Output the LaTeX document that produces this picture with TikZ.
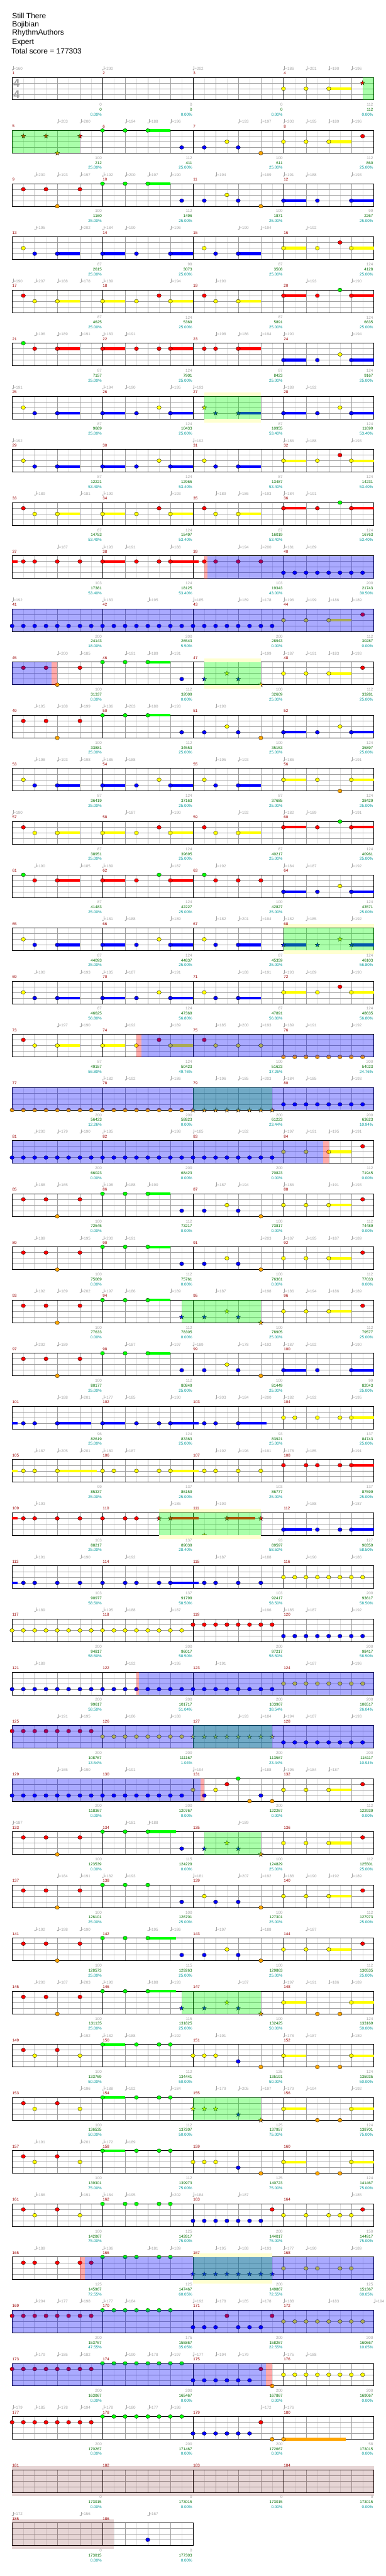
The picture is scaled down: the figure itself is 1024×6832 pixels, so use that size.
\documentclass[tikz,border=0pt]{standalone}
\usepackage{fontspec}
\setmainfont{Liberation Sans}

% fret colours (lane 0 = green ... lane 4 = orange)
\definecolor{lane0}{RGB}{0,255,0}
\definecolor{lane1}{RGB}{255,0,0}
\definecolor{lane2}{RGB}{255,255,0}
\definecolor{lane3}{RGB}{0,0,255}
\definecolor{lane4}{RGB}{255,165,0}
\definecolor{halfgray}{RGB}{224,224,224}
\definecolor{beatgray}{RGB}{160,160,160}
\definecolor{tempogray}{RGB}{165,165,165}
\definecolor{barred}{RGB}{153,0,0}
\definecolor{scoregreen}{RGB}{0,110,0}
\definecolor{pctteal}{RGB}{0,153,153}
\definecolor{whammyyellow}{RGB}{255,255,208}
\definecolor{codabrown}{RGB}{130,45,45}

\tikzset{
  halfline/.style={draw=halfgray, line width=0.8pt},
  beatline/.style={draw=beatgray, line width=0.8pt},
  laneline/.style={draw=beatgray, line width=1pt},
  barline/.style={draw=black, line width=0.8pt},
  border/.style={draw=black, line width=1.3pt},
  fret/.style={draw=black, line width=0.5pt},
  small/.style={font=\fontsize{10.5}{12}\selectfont, inner sep=0pt},
  tempotext/.style={small, text=tempogray, anchor=west},
  barnum/.style={small, text=barred, anchor=west},
  basenum/.style={small, text=tempogray, anchor=east},
  totalnum/.style={small, text=scoregreen, anchor=east},
  pctnum/.style={small, text=pctteal, anchor=east},
  songinfo/.style={font=\fontsize{20}{20}\selectfont, anchor=west, inner sep=0pt},
  timesig/.style={font=\fontsize{30}{30}\selectfont\bfseries, text=beatgray, inner sep=0pt},
  spglow/.style={fill=lane0, fill opacity=0.333},
  actblue/.style={fill=lane3, fill opacity=0.333},
  actpink/.style={fill=lane1, fill opacity=0.333},
  codashade/.style={fill=codabrown, fill opacity=0.2}
}

% one staff row: #1 row, #2 measures
\newcommand{\staff}[2]{%
  \pgfmathsetmacro{\rowy}{205+141*#1}%
  \pgfmathsetmacro{\rowend}{32+240*#2}%
  \pgfmathtruncatemacro{\nhalf}{8*#2-1}%
  \pgfmathtruncatemacro{\nbeat}{4*#2-1}%
  \pgfmathtruncatemacro{\nbar}{#2-1}%
  \foreach \k in {1,...,\nhalf} \draw[halfline] ({32+30*\k},\rowy) -- ++(0,60);
  \foreach \k in {1,...,\nbeat} \draw[beatline] ({32+60*\k},\rowy) -- ++(0,60);
  \foreach \k in {1,2,3} \draw[laneline] (32,{\rowy+15*\k}) -- (\rowend,{\rowy+15*\k});
  \foreach \k in {1,...,\nbar} \draw[barline] ({32+240*\k},\rowy) -- ++(0,60);
  \draw[border] (32,\rowy) rectangle (\rowend,{\rowy+60});
}
% tempo marks: beat/bpm
\newcommand{\tempos}[2]{%
  \pgfmathsetmacro{\rowy}{205+141*#1}%
  \foreach \beat/\bpm [count=\i] in {#2}{
    \fill[tempogray] ({33+60*\beat},{\rowy-20}) ellipse [x radius=2, y radius=1.5];
    \draw[tempogray, line width=0.6pt] ({34.8+60*\beat},{\rowy-20}) -- ++(0,-10);
    \node[tempotext] (bpm#1x\i) at ({36+60*\beat},{\rowy-23}) {=\bpm};
  }}
% sustains: start/lane/end
\newcommand{\holds}[2]{%
  \pgfmathsetmacro{\rowy}{205+141*#1}%
  \foreach \st/\lane/\en in {#2}
    \fill[lane\lane] ({32+60*\st},{\rowy+15*\lane-3.5}) rectangle ({32+60*\en},{\rowy+15*\lane+3.5});
}
\newcommand{\gem}[2]{\filldraw[fret, fill=lane#2] ({32+60*(#1)},{\rowy+15*#2}) ellipse [x radius=5.6, y radius=5];}
\newcommand{\stargem}[2]{\filldraw[fret, fill=lane#2, shift={({32+60*(#1)},{\rowy+15*#2})}]
  (-90:6.5) -- (-54:2.6) -- (-18:6.5) -- (18:2.6) -- (54:6.5) -- (90:2.6) -- (126:6.5) -- (162:2.6) -- (198:6.5) -- (234:2.6) -- cycle;}
% notes: beat/lane
\newcommand{\frets}[2]{%
  \pgfmathsetmacro{\rowy}{205+141*#1}%
  \foreach \beat/\lane in {#2} \gem{\beat}{\lane};
}
% eighth-note runs: row, first beat, count, lane
\newcommand{\fretrun}[4]{%
  \pgfmathsetmacro{\rowy}{205+141*#1}%
  \foreach \k in {1,...,#3} \gem{#2+0.5*(\k-1)}{#4};
}
\newcommand{\spstars}[2]{%
  \pgfmathsetmacro{\rowy}{205+141*#1}%
  \foreach \beat/\lane in {#2} \stargem{\beat}{\lane};
}
\newcommand{\starrun}[4]{%
  \pgfmathsetmacro{\rowy}{205+141*#1}%
  \foreach \k in {1,...,#3} \stargem{#2+0.5*(\k-1)}{#4};
}
% shaded zones: row, from beat, to beat
\newcommand{\spzone}[3]{\pgfmathsetmacro{\rowy}{205+141*#1}%
  \fill[spglow] ({32+60*#2},\rowy) rectangle ({32+60*#3},{\rowy+60});}
\newcommand{\whammy}[3]{\pgfmathsetmacro{\rowy}{205+141*#1}%
  \fill[whammyyellow] ({32+60*#2},{\rowy-10}) rectangle ({32+60*#3},\rowy);
  \fill[whammyyellow] ({32+60*#2},{\rowy+60}) rectangle ({32+60*#3},{\rowy+70});}
\newcommand{\actzone}[3]{\pgfmathsetmacro{\rowy}{205+141*#1}%
  \fill[actblue] ({32+60*#2},\rowy) rectangle ({32+60*#3},{\rowy+60});}
\newcommand{\actedge}[3]{\pgfmathsetmacro{\rowy}{205+141*#1}%
  \fill[actpink] ({32+60*#2},\rowy) rectangle ({32+60*#3},{\rowy+60});}
\newcommand{\codazone}[3]{\pgfmathsetmacro{\rowy}{205+141*#1}%
  \fill[codashade] ({32+60*#2},{\rowy-10}) rectangle ({32+60*#3},{\rowy+70});}
% measure numbers and scores: row, first measure, base/total/percent
\newcommand{\scores}[3]{%
  \pgfmathsetmacro{\rowy}{205+141*#1}%
  \foreach \base/\total/\pct [count=\i from 0] in {#3}{
    \pgfmathtruncatemacro{\mm}{#2+\i}
    \node[barnum] (bar\mm) at ({32.5+240*\i},{\rowy-11}) {\mm};
    \node[basenum] (base\mm) at ({30+240*(\i+1)},{\rowy+73}) {\base};
    \node[totalnum] (total\mm) at ({30+240*(\i+1)},{\rowy+86}) {\total};
    \node[pctnum] (pct\mm) at ({30+240*(\i+1)},{\rowy+99}) {\pct\%};
  }}

\begin{document}
\begin{tikzpicture}[x=1pt, y=-1pt]
  \fill[white] (0,0) rectangle (1024,6832);
  \useasboundingbox (0,0) rectangle (1024,6832);

  % Song info
  \node[songinfo] (songtitle) at (32,42) {Still There};
  \node[songinfo] (artist) at (32,65) {Bojibian};
  \node[songinfo] (charter) at (32,88) {RhythmAuthors};
  \node[songinfo] (difficulty) at (32,112) {Expert};
  \node[songinfo] (totalscore) at (30,135) {Total score = 177303};

  % measures 1-4
  \staff{0}{4}
  \node[timesig] (tsup) at (44,221) {4};
  \node[timesig] (tslow) at (44,251) {4};
  \tempos{0}{0/160,4/200,8/202,12/186,13/201,14/190,15/196}
  \holds{0}{14/2/15}
  \frets{0}{12/2,13/2,14/2}
  \spstars{0}{15.5/1}
  \spzone{0}{15.5}{16}
  \scores{0}{1}{0/0/0.00,0/0/0.00,0/0/0.00,112/112/0.00}

  % measures 5-8
  \staff{1}{4}
  \tempos{1}{2/203,3/200,5/194,6/188,7/196,10/193,11/197,12/200,13/195,14/189,15/196}
  \holds{1}{6/0/7,14/2/15}
  \frets{1}{4/0,5/0,6/0,7.5/3,8.5/3,9.5/2,10/3,11/4,12/2,13/2,14/2,15.5/1}
  \spstars{1}{0.5/1,1.5/1,2/4,3/1}
  \spzone{1}{0}{3}
  \scores{1}{5}{100/212/25.00,112/411/25.00,100/611/25.00,112/860/25.00}

  % measures 9-12
  \staff{2}{4}
  \tempos{2}{1/200,2/193,3/197,4/192,5/200,6/197,7/190,9/194,11/199,12/191,13/188,15/193}
  \holds{2}{6/0/7,12/3/13,15/3/16}
  \frets{2}{0.5/1,1.5/1,2/4,3/1,4/0,5/0,6/0,7.5/3,8.5/3,9.5/2,10/3,11/4,12/3,13.5/3,15/3}
  \scores{2}{9}{100/1160/25.00,112/1496/25.00,100/1871/25.00,99/2267/25.00}

  % measures 13-16
  \staff{3}{4}
  \tempos{3}{1/195,3/202,4/184,5/190,7/196,10/190,11/194,13/192}
  \holds{3}{2/3/3,4/3/5,7/3/8,10/3/11,12/2/13,15/2/16}
  \frets{3}{0.5/2,1/3,2/3,4/3,5.5/3,7/3,8.5/2,9/3,10/3,12/2,13.5/2,14.5/1,15/2}
  \scores{3}{13}{87/2615/25.00,99/3073/25.00,87/3508/25.00,124/4128/25.00}

  % measures 17-20
  \staff{4}{4}
  \tempos{4}{0/190,1/207,2/188,3/178,4/189,7/194,9/190,13/193,15/190}
  \holds{4}{2/2/3,4/2/5,7/2/8,10/2/11,12/1/13,15/1/16}
  \frets{4}{0.5/1,1/2,2/2,4/2,5.5/2,6.5/1,7/2,8.5/1,9/2,10/2,12/1,13.5/1,14.5/0,15/1}
  \scores{4}{17}{87/4625/25.00,124/5369/25.00,87/5891/25.00,124/6635/25.00}

  % measures 21-24
  \staff{5}{4}
  \tempos{5}{1/196,2/189,3/191,4/183,5/191,9/198,10/186,11/194,12/190,15/194}
  \holds{5}{2/1/3,4/1/5,7/1/8,10/1/11,12/3/13,15/3/16}
  \frets{5}{0.5/0,1/1,2/1,4/1,5.5/1,6.5/1,7/1,8.5/1,9/1,10/1,12/3,13.5/3,14.5/2,15/3}
  \scores{5}{21}{87/7157/25.00,124/7901/25.00,87/8423/25.00,124/9167/25.00}

  % measures 25-28
  \staff{6}{4}
  \tempos{6}{0/191,4/194,5/190,7/195,8/193,12/189,13/192}
  \holds{6}{2/3/3,4/3/5,7/3/8,10/3/11,12/3/13,15/3/16}
  \frets{6}{0.5/2,1/3,2/3,4/3,5.5/3,6.5/2,7/3,12/3,13.5/3,14.5/2,15/3}
  \spstars{6}{8.5/2,9/3,10/3}
  \whammy{6}{8.5}{11}
  \spzone{6}{8.5}{11}
  \scores{6}{25}{87/9689/25.00,124/10433/25.00,87/10955/53.40,124/11699/53.40}

  % measures 29-32
  \staff{7}{4}
  \tempos{7}{0/192,8/192,12/186,13/188,15/193}
  \holds{7}{2/3/3,4/3/5,7/3/8,10/3/11,12/2/13,15/2/16}
  \frets{7}{0.5/2,1/3,2/3,4/3,5.5/3,6.5/2,7/3,8.5/2,9/3,10/3,12/2,13.5/2,14.5/1,15/2}
  \scores{7}{29}{87/12221/53.40,124/12965/53.40,87/13487/53.40,124/14231/53.40}

  % measures 33-36
  \staff{8}{4}
  \tempos{8}{1/189,3/181,4/190,7/193,9/189,10/186,11/193,12/184,13/191}
  \holds{8}{2/2/3,4/2/5,7/2/8,10/2/11,12/1/13,15/1/16}
  \frets{8}{0.5/1,1/2,2/2,4/2,5.5/2,6.5/1,7/2,8.5/1,9/2,10/2,12/1,13.5/1,14.5/0,15/1}
  \scores{8}{33}{87/14753/53.40,124/15497/53.40,87/16019/53.40,124/16763/53.40}

  % measures 37-40
  \staff{9}{4}
  \tempos{9}{2/187,4/193,5/191,7/188,10/194,11/200,12/181,13/189}
  \holds{9}{0/1/0.25,4/1/5,7/1/8.25}
  \frets{9}{0.5/1,1/1,2/1,3/1,4/1,5.5/1,6.5/1,7/1,8.5/1,9/1,10/1,11/1}
  \fretrun{9}{12}{8}{3}
  \actedge{9}{8.5}{8.65}
  \actzone{9}{8.65}{16}
  \scores{9}{37}{103/17381/53.40,124/18125/53.40,103/19343/43.00,200/21743/30.50}

  % measures 41-44
  \staff{10}{4}
  \tempos{10}{0/192,4/183,6/195,8/185,10/189,11/178,12/196,13/199,14/186,15/189}
  \holds{10}{14/2/15}
  \fretrun{10}{0}{24}{3}
  \frets{10}{12/2,13/2,14/2,15.5/1}
  \actzone{10}{0}{16}
  \scores{10}{41}{200/24143/18.00,200/26543/5.50,200/28943/0.00,112/30287/0.00}

  % measures 45-48
  \staff{11}{4}
  \tempos{11}{2/200,3/185,5/191,6/189,7/191,11/199,12/187,13/191,14/183,15/193}
  \holds{11}{6/0/7,14/2/15}
  \frets{11}{0.5/1,1.5/1,2/4,3/1,4/0,5/0,6/0,7.5/3,12/2,13/2,14/2,15.5/1}
  \spstars{11}{8.5/3,9.5/2,10/3,11/4}
  \actzone{11}{0}{1.75}
  \actedge{11}{1.75}{2}
  \whammy{11}{8.5}{11}
  \spzone{11}{8.5}{11}
  \scores{11}{45}{100/31337/0.00,112/32009/0.00,100/32609/25.00,112/33281/25.00}

  % measures 49-52
  \staff{12}{4}
  \tempos{12}{1/195,2/188,3/199,4/186,5/203,6/180,7/193,9/190}
  \holds{12}{6/0/7,12/3/13,15/3/16}
  \frets{12}{0.5/1,1.5/1,2/4,3/1,4/0,5/0,6/0,7.5/3,8.5/3,9.5/2,10/3,11/4,12/3,13.5/3,14.5/2,15/3}
  \scores{12}{49}{100/33881/25.00,112/34553/25.00,100/35153/25.00,124/35897/25.00}

  % measures 53-56
  \staff{13}{4}
  \tempos{13}{1/198,2/193,3/198,4/185,5/188,9/195,10/193,12/186,15/191}
  \holds{13}{2/3/3,4/3/5,7/3/8,10/3/11,12/2/13,15/2/16}
  \frets{13}{0.5/2,1/3,2/3,4/3,5.5/3,6.5/2,7/3,8.5/2,9/3,10/3,12/2,13.5/2,14.5/4,15/2}
  \scores{13}{53}{87/36419/25.00,124/37163/25.00,87/37685/25.00,124/38429/25.00}

  % measures 57-60
  \staff{14}{4}
  \tempos{14}{0/190,5/187,7/190,10/192,12/182,13/189,15/191}
  \holds{14}{2/2/3,4/2/5,7/2/8,10/2/11,12/1/13,15/1/16}
  \frets{14}{0.5/1,1/2,2/2,4/2,5.5/2,6.5/1,7/2,8.5/1,9/2,10/2,12/1,13.5/1,14.5/0,15/1}
  \scores{14}{57}{87/38951/25.00,124/39695/25.00,87/40217/25.00,124/40961/25.00}

  % measures 61-64
  \staff{15}{4}
  \tempos{15}{1/190,3/185,4/189,7/187,9/192,12/184,13/187,15/192}
  \holds{15}{2/1/3,4/1/5,7/1/8,12/3/13,15/3/16}
  \frets{15}{0.5/0,1/1,2/1,4/1,5.5/1,6.5/0,7/1,8.5/0,9/1,10/1,11/1,12/3,13.5/3,14.5/2,15/3}
  \scores{15}{61}{87/41483/25.00,124/42227/25.00,100/42827/25.00,124/43571/25.00}

  % measures 65-68
  \staff{16}{4}
  \tempos{16}{4/181,5/188,7/189,9/182,10/201,11/194,12/182,13/185,15/192}
  \holds{16}{2/3/3,4/3/5,7/3/8,10/3/11,12/3/13,15/3/16}
  \frets{16}{0.5/2,1/3,2/3,4/3,5.5/3,6.5/2,7/3,8.5/2,9/3,10/3}
  \spstars{16}{12/3,13.5/3,14.5/2,15/3}
  \whammy{16}{12}{16}
  \spzone{16}{12}{16}
  \scores{16}{65}{87/44093/25.00,124/44837/25.00,87/45359/25.00,124/46103/56.80}

  % measures 69-72
  \staff{17}{4}
  \tempos{17}{1/190,3/193,4/185,5/187,7/191,10/188,11/191,12/193,13/189,15/190}
  \holds{17}{2/3/3,4/3/5,7/3/8,10/3/11,12/2/13,15/2/16}
  \frets{17}{0.5/2,1/3,2/3,4/3,5.5/3,6.5/2,7/3,8.5/2,9/3,10/3,12/2,13.5/2,14.5/1,15/2}
  \scores{17}{69}{87/46625/56.80,124/47369/56.80,87/47891/56.80,124/48635/56.80}

  % measures 73-76
  \staff{18}{4}
  \tempos{18}{2/197,3/190,5/192,7/189,9/185,10/200,11/193,12/189,13/191,15/192}
  \holds{18}{2/2/3,4/2/5,7/2/8}
  \frets{18}{0.5/1,1/2,2/2,4/2,5.5/2,6.5/1,7/2,8.5/1,9/2,10/2,11/2}
  \fretrun{18}{12}{8}{4}
  \actedge{18}{5.5}{5.72}
  \actzone{18}{5.72}{16}
  \scores{18}{73}{87/49157/56.80,124/50423/49.76,100/51623/37.26,200/54023/24.76}

  % measures 77-80
  \staff{19}{4}
  \tempos{19}{4/182,5/192,7/186,9/196,10/185,11/203,12/184,13/185,15/193}
  \fretrun{19}{0}{16}{4}
  \starrun{19}{8}{8}{4}
  \fretrun{19}{12}{8}{3}
  \spzone{19}{8}{11.5}
  \actzone{19}{0}{16}
  \scores{19}{77}{200/56423/12.26,200/58823/0.00,200/61223/23.44,200/63623/10.94}

  % measures 81-84
  \staff{20}{4}
  \tempos{20}{1/200,2/179,3/190,4/185,7/198,8/185,10/182,12/197,13/191,14/195,15/191}
  \holds{20}{14/2/15}
  \fretrun{20}{0}{24}{3}
  \frets{20}{12/2,13/2,14/2,15.5/1}
  \actzone{20}{0}{13.75}
  \actedge{20}{13.75}{14}
  \scores{20}{81}{200/66023/0.00,200/68423/0.00,200/70823/0.00,112/71945/0.00}

  % measures 85-88
  \staff{21}{4}
  \tempos{21}{1/188,2/165,4/198,5/188,6/190,9/187,10/194,12/186,14/191,15/193}
  \holds{21}{6/0/7,14/2/15}
  \frets{21}{0.5/1,1.5/1,2/4,3/1,4/0,5/0,6/0,7.5/3,8.5/3,9.5/2,10/3,11/4,12/2,13/2,14/2,15.5/1}
  \scores{21}{85}{100/72545/0.00,112/73217/0.00,100/73817/0.00,112/74489/0.00}

  % measures 89-92
  \staff{22}{4}
  \tempos{22}{1/189,3/195,4/200,5/191,11/203,12/187,13/195,14/187,15/189}
  \holds{22}{6/0/7,14/2/15}
  \frets{22}{0.5/1,1.5/1,2/4,3/1,4/0,5/0,6/0,7.5/3,8.5/3,9.5/2,10/3,11/4,12/2,13/2,14/2,15.5/1}
  \scores{22}{89}{100/75089/0.00,112/75761/0.00,100/76361/0.00,112/77033/0.00}

  % measures 93-96
  \staff{23}{4}
  \tempos{23}{1/192,2/189,3/202,4/197,5/186,7/189,9/187,11/198,12/186,13/194,14/186,15/189}
  \holds{23}{6/0/7,14/2/15}
  \frets{23}{0.5/1,1.5/1,2/4,3/1,4/0,5/0,6/0,12/2,13/2,14/2,15.5/1}
  \spstars{23}{7.5/3,8.5/3,9.5/2,10/3,11/4}
  \spzone{23}{7.5}{11}
  \scores{23}{93}{100/77633/0.00,112/78305/0.00,100/78905/25.00,112/79577/25.00}

  % measures 97-100
  \staff{24}{4}
  \tempos{24}{1/202,2/189,5/187,7/197,8/189,10/178,11/192,12/187,13/192,15/190}
  \holds{24}{6/0/7,12/3/13,15/3/16}
  \frets{24}{0.5/1,1.5/1,2/4,3/1,4/0,5/0,6/0,7.5/3,8.5/3,9.5/2,10/3,11/4,12/3,13.5/3,15/3}
  \scores{24}{97}{100/80177/25.00,112/80849/25.00,100/81449/25.00,99/82043/25.00}

  % measures 101-104
  \staff{25}{4}
  \tempos{25}{2/188,3/201,4/177,5/185,7/190,9/203,10/184,11/200,12/182,13/192,15/195}
  \holds{25}{0/3/0.25,2/3/3.5,4/3/5,7/3/8.25,10/3/11.25,15/2/16}
  \frets{25}{0.5/3,1/3,2/3,4/3,5.5/3,6.5/3,7/3,8.5/3,9/3,10/3,12/2,12.5/2,13.5/2,14.5/2,15/2}
  \scores{25}{101}{96/82619/25.00,124/83363/25.00,93/83921/25.00,137/84743/25.00}

  % measures 105-108
  \staff{26}{4}
  \tempos{26}{1/187,2/205,3/201,4/180,5/187,9/192,10/196,11/191,12/178,13/185,15/191}
  \holds{26}{0/2/0.25,2/2/3.75,7/2/8.25,15/1/16}
  \frets{26}{0.5/2,1/2,2/2,4/2,4.5/2,5.5/2,6.5/2,7/2,8.5/2,9/2,10/2,11/2,12/1,13/1,13.5/1,14.5/1,15/1}
  \scores{26}{105}{99/85337/25.00,137/86159/25.00,103/86777/25.00,137/87599/25.00}

  % measures 109-112
  \staff{27}{4}
  \tempos{27}{1/193,7/185,9/190,13/188,15/187}
  \holds{27}{0/1/0.25,7/1/8.25,9.5/1/10.75,12/3/13.25,15/3/16}
  \frets{27}{0.5/1,1/1,2/1,3/1,4/1,5/1,5.5/1,12/3,13.5/3,14.5/3,15/3}
  \spstars{27}{6.5/1,7/1,8.5/4,9.5/1,11/1}
  \whammy{27}{6.5}{11}
  \spzone{27}{6.5}{11}
  \scores{27}{109}{103/88217/25.00,137/89039/28.40,93/89597/58.50,127/90359/58.50}

  % measures 113-116
  \staff{28}{4}
  \tempos{28}{1/191,3/190,5/192,9/187,11/188,13/190,15/186}
  \holds{28}{0/3/0.25,7/3/8.25}
  \frets{28}{0.5/3,1/3,2/3,3/3,4/3,5/3,5.5/3,6.5/3,7/3,8.5/3,9/3,10/3,11/3}
  \fretrun{28}{12}{8}{2}
  \scores{28}{113}{103/90977/58.50,137/91799/58.50,103/92417/58.50,200/93617/58.50}

  % measures 117-120
  \staff{29}{4}
  \tempos{29}{1/189,4/195,5/188,7/187,11/196,12/185,13/187,15/192}
  \fretrun{29}{0}{16}{2}
  \fretrun{29}{8}{8}{1}
  \fretrun{29}{12}{8}{3}
  \scores{29}{117}{200/94817/58.50,200/96017/58.50,200/97217/58.50,200/98417/58.50}

  % measures 121-124
  \staff{30}{4}
  \tempos{30}{1/189,5/192,7/195,9/191,13/187,15/196}
  \fretrun{30}{0}{24}{3}
  \fretrun{30}{12}{8}{2}
  \actedge{30}{5.5}{5.62}
  \actzone{30}{5.62}{16}
  \scores{30}{121}{200/99617/58.50,200/101717/51.04,200/103967/38.54,200/106517/26.04}

  % measures 125-128
  \staff{31}{4}
  \tempos{31}{2/191,3/195,5/186,7/188,10/193,11/184,12/194,13/187,15/193}
  \fretrun{31}{0}{8}{1}
  \fretrun{31}{4}{8}{2}
  \starrun{31}{8}{8}{2}
  \fretrun{31}{12}{8}{3}
  \spzone{31}{8}{11.5}
  \actzone{31}{0}{16}
  \scores{31}{125}{200/108767/13.54,200/111167/1.04,200/113567/23.44,200/116117/10.94}

  % measures 129-132
  \staff{32}{4}
  \tempos{32}{2/165,3/190,5/191,8/194,11/188,12/195,13/184,14/187}
  \holds{32}{14/2/15}
  \fretrun{32}{0}{16}{3}
  \frets{32}{8/2,8.5/3,9/2,9.5/1,10/0,10.5/4,11/3,11.5/4,12/2,13/2,14/2,15.5/1}
  \actzone{32}{0}{8.33}
  \actedge{32}{8.33}{8.5}
  \scores{32}{129}{200/118367/0.00,200/120767/0.00,200/122267/0.00,112/122939/0.00}

  % measures 133-136
  \staff{33}{4}
  \tempos{33}{0/187,5/181,6/188,10/189}
  \holds{33}{6/0/7.25,14/2/15}
  \frets{33}{0.5/1,1.5/1,2/4,3/1,4/0,5/0,6/0,7.5/3,12/2,13/2,14/2,15.5/1}
  \spstars{33}{8.5/3,9.5/2,10/3,11/4}
  \spzone{33}{8.5}{11}
  \scores{33}{133}{100/123539/0.00,115/124229/0.00,100/124829/25.00,112/125501/25.00}

  % measures 137-140
  \staff{34}{4}
  \tempos{34}{2/184,3/191,4/182,5/193,8/181,10/207,11/192,12/188,13/190,14/192,15/189}
  \holds{34}{14/2/15}
  \frets{34}{0.5/1,1.5/1,2/4,3/1,4/0,5/0,6/0,7.5/3,8.5/2,9/3,10/3,11/4,12/2,13/2,14/2,15.5/1}
  \scores{34}{137}{100/126101/25.00,100/126701/25.00,100/127301/25.00,112/127973/25.00}

  % measures 141-144
  \staff{35}{4}
  \tempos{35}{1/192,2/198,3/190,6/195,7/186,9/197,11/188,13/187}
  \holds{35}{6/0/7.25,14/2/15}
  \frets{35}{0.5/1,1.5/1,2/4,3/1,4/0,5/0,6/0,7.5/3,8.5/3,9.5/2,10/3,11/4,12/2,13/2,14/2,15.5/1}
  \scores{35}{141}{100/128573/25.00,115/129263/25.00,100/129863/25.00,112/130535/25.00}

  % measures 145-148
  \staff{36}{4}
  \tempos{36}{1/200,2/187,3/203,4/190,6/188,7/193,10/187,12/197,13/191,14/186,15/189}
  \holds{36}{6/0/7.25,12/2/13,15/2/16}
  \frets{36}{0.5/1,1.5/1,2/4,3/1,4/0,5/0,6/0,12/2,13.5/4,14.5/4,15/2}
  \spstars{36}{7.5/3,8.5/3,9.5/2,10/3,11/4}
  \spzone{36}{7.5}{11}
  \scores{36}{145}{100/131135/25.00,115/131825/25.00,100/132425/50.00,124/133169/50.00}

  % measures 149-152
  \staff{37}{4}
  \tempos{37}{3/192,4/182,5/188,7/192,9/191,12/178,13/187,15/189}
  \holds{37}{4/0/5,12/2/13,15/2/16}
  \frets{37}{0.5/1,1/2,2/1,3/2,4/0,5.5/0,6.5/0,7/0,8/2,8.5/2,9/2,10/3,11/4,12/2,13.5/4,14.5/4,15/2}
  \scores{37}{149}{100/133769/50.00,112/134441/50.00,125/135191/50.00,124/135935/50.00}

  % measures 153-156
  \staff{38}{4}
  \tempos{38}{3/196,4/188,5/192,7/184,9/179,10/205,11/197,12/179,13/194,15/192}
  \holds{38}{4/0/5,12/2/13,15/2/16}
  \frets{38}{0.5/1,1/2,2/1,3/2,4/0,5.5/0,6.5/0,7/0,12/2,13.5/4,14.5/4,15/2}
  \spstars{38}{8/2,8.5/2,9/2,10/3,11/4}
  \spzone{38}{8}{11}
  \scores{38}{153}{100/136535/50.00,112/137207/50.00,125/137957/75.00,124/138701/75.00}

  % measures 157-160
  \staff{39}{4}
  \tempos{39}{1/191,3/201,4/172,5/189}
  \holds{39}{4/0/5,12/2/13,15/2/16}
  \frets{39}{0.5/1,1/2,2/1,3/2,4/0,5.5/0,6.5/0,7/0,8/2,8.5/2,9/2,10/3,11/4,12/2,13.5/4,14.5/4,15/2}
  \scores{39}{157}{100/139301/75.00,112/139973/75.00,125/140723/75.00,124/141467/75.00}

  % measures 161-164
  \staff{40}{4}
  \tempos{40}{1/186,3/191,4/184,5/195,7/202,8/184,10/187,15/185}
  \frets{40}{0.5/1,1/2,2/1,3/2,4/0,5/0,5.5/0,6.5/0,7/0,11.5/1,12/2,13/2,14/2,14.5/2,15/2,15.5/1}
  \fretrun{40}{8}{7}{3}
  \scores{40}{161}{100/142067/75.00,125/142817/75.00,200/144017/75.00,150/144917/75.00}

  % measures 165-168
  \staff{41}{4}
  \tempos{41}{1/189,4/186,6/181,7/189,9/195,10/188,11/193,12/177,13/190,15/189}
  \frets{41}{0.5/1,1/1,2/1,3/1,3.5/1,4/0,5/0,5.5/0,6.5/0,7/0,12/2,13/2,13.5/2,14.5/2,15/2}
  \starrun{41}{8}{8}{3}
  \whammy{41}{8}{11.5}
  \spzone{41}{8}{11.5}
  \actedge{41}{3}{3.22}
  \actzone{41}{3.22}{16}
  \scores{41}{165}{125/145967/72.55,125/147467/60.05,200/149867/72.55,125/151367/60.05}

  % measures 169-172
  \staff{42}{4}
  \tempos{42}{1/204,2/177,3/198,4/177,5/184,8/192,9/178,10/185,11/178,12/188,14/183,16/194}
  \fretrun{42}{0}{8}{1}
  \fretrun{42}{4}{7}{0}
  \frets{42}{8/3,8.5/3,9/3,9.5/1,10/3,10.5/3,11/3,11.5/1}
  \fretrun{42}{12}{8}{2}
  \actzone{42}{0}{16}
  \scores{42}{169}{200/153767/47.55,175/155867/35.05,200/158267/22.55,200/160667/10.05}

  % measures 173-176
  \staff{43}{4}
  \tempos{43}{1/179,2/185,3/182,5/190,6/178,7/197,8/177,9/194,10/179,12/175,13/188}
  \fretrun{43}{0}{8}{1}
  \fretrun{43}{4}{8}{0}
  \fretrun{43}{8}{6}{3}
  \frets{43}{11/1,11.5/4}
  \fretrun{43}{12}{8}{2}
  \actzone{43}{0}{11.22}
  \actedge{43}{11.22}{11.5}
  \scores{43}{173}{200/163067/0.00,200/165467/0.00,200/167867/0.00,200/169067/0.00}

  % measures 177-180
  \staff{44}{4}
  \tempos{44}{0/179,1/185,2/178,3/194,4/178,5/180,6/177,7/186,11/172,12/176}
  \holds{44}{12/4/14.75}
  \fretrun{44}{0}{8}{1}
  \fretrun{44}{4}{8}{0}
  \fretrun{44}{8}{6}{3}
  \frets{44}{11/1,11.5/4,12/4}
  \scores{44}{177}{200/170267/0.00,200/171467/0.00,200/172667/0.00,58/173015/0.00}

  % measures 181-184
  \staff{45}{4}
  \codazone{45}{0}{16}
  \scores{45}{181}{0/173015/0.00,0/173015/0.00,0/173015/0.00,0/173015/0.00}

  % measures 185-186
  \staff{46}{2}
  \tempos{46}{0/172,3/156,6/167}
  \frets{46}{6/3}
  \codazone{46}{0}{4.5}
  \scores{46}{185}{0/173015/0.00,0/177303/0.00}
\end{tikzpicture}
\end{document}
